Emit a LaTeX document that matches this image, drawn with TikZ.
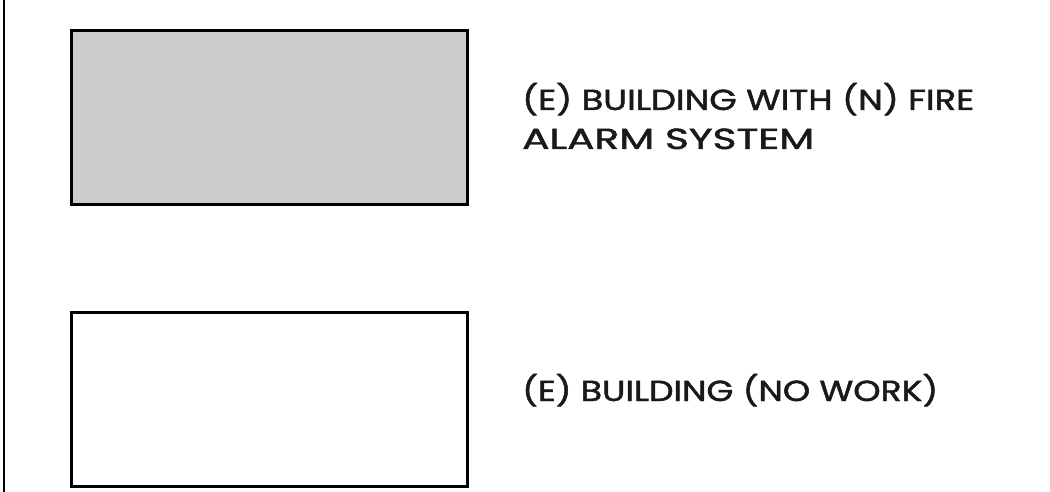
\documentclass[tikz,border=0pt]{standalone}
\usepackage{fontspec}
\usepackage{graphicx}
\setmainfont{Poppins}
\newfontfamily\lettering{Poppins}[FakeBold=1.5]
\begin{document}
\begin{tikzpicture}[x=1pt,y=-1pt,
  bldg/.style={draw=black,line width=2.6pt,minimum width=396pt,minimum height=174pt,inner sep=0pt,anchor=north west},
  lbl/.style={anchor=base west,align=left,inner sep=0pt,font=\lettering\fontsize{29}{32}\selectfont,text=black!90}]
\useasboundingbox (0,0) rectangle (1050,492);
\fill[white] (0,0) rectangle (1050,492);
\coordinate (lt) at (4,0);
\coordinate (lb) at (4,492);
\draw[line width=2pt] (lt) -- (lb);
\node[bldg,fill=black!20] (alarm) at (70,29) {};
\node[bldg,fill=white] (nowork) at (70,311) {};
\node[lbl] (alarmtxt) at (522,149) {\resizebox{452pt}{\height}{(E) BUILDING WITH (N) FIRE}\\[7pt]\resizebox{292pt}{\height}{ALARM SYSTEM}};
\node[lbl] (noworktxt) at (522,401) {\resizebox{416pt}{\height}{(E) BUILDING (NO WORK)}};
\end{tikzpicture}
\end{document}
